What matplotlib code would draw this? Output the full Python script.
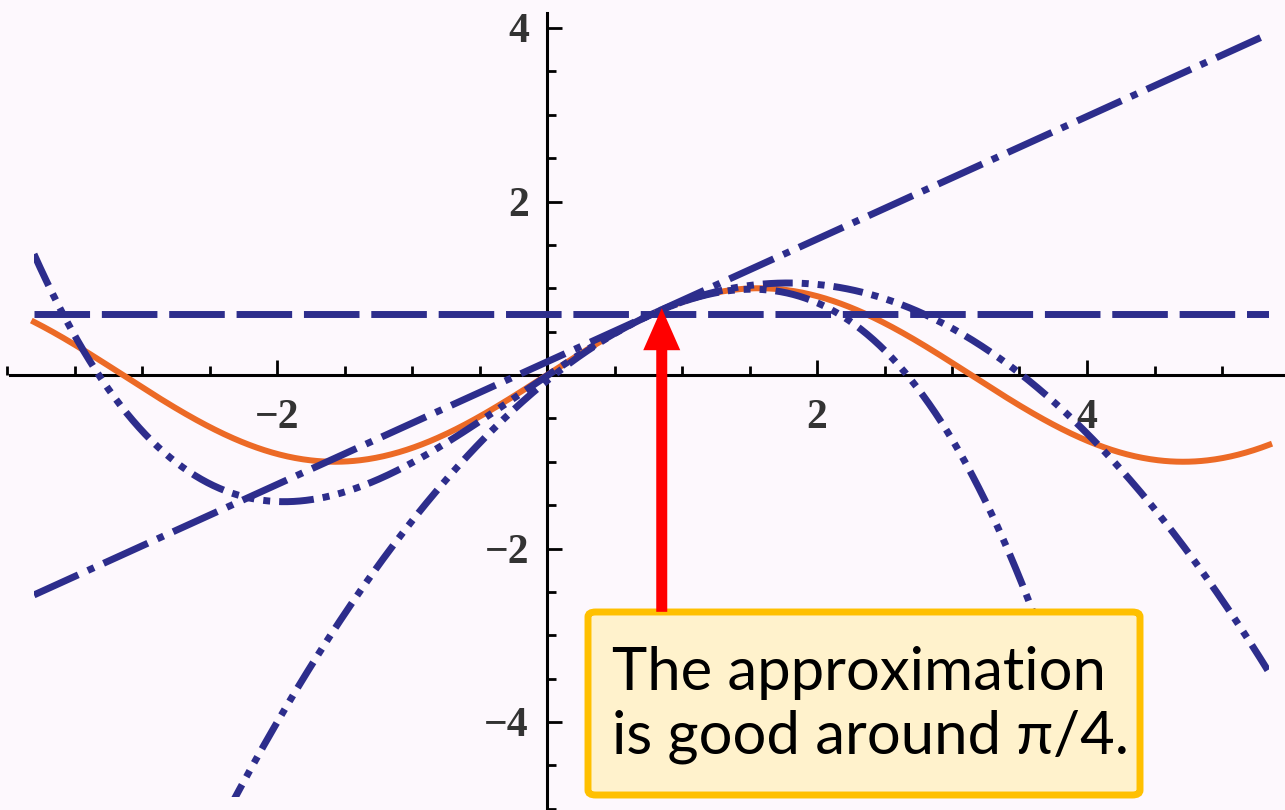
import numpy as np
import matplotlib.pyplot as plt
from matplotlib.patches import FancyBboxPatch, Rectangle, FancyArrow
from matplotlib.ticker import FixedLocator, MultipleLocator

# sin(x) and its Taylor polynomials about pi/4
center = np.pi / 4
orders = [0, 1, 2, 3]
x_start, x_end = -3.8, 5.35
y_floor = -4.87

x_labels = [-2, 2, 4]
y_labels = [-4, -2, 2, 4]

note = "The approximation\nis good around \u03c0/4."
arrow_x, arrow_tip_y, arrow_tail_y = 0.85, 0.77, -2.73

navy = '#2d2d8c'
orange = '#ec6a26'
# dash patterns (in multiples of linewidth) per order
dash_styles = {
    0: (8.0, 1.7),
    1: (7.0, 1.5, 1.0, 1.5),
    2: (4.3, 1.3, 1.0, 1.3, 1.0, 1.3),
    3: (5.0, 1.3, 1.0, 1.3, 1.0, 1.3, 1.0, 1.3),
}


def taylor_sin(x, a, n):
    derivs = [np.sin(a), np.cos(a), -np.sin(a), -np.cos(a)]
    y = np.zeros_like(x)
    fact = 1.0
    for k in range(n + 1):
        if k > 0:
            fact *= k
        y = y + derivs[k % 4] * (x - a) ** k / fact
    return y


fig = plt.figure(figsize=(12.85, 8.10), dpi=100)
ax = fig.add_axes([0, 0, 1, 1])
ax.set_facecolor('#fdf8fd')
ax.set_xlim(-547 / 135, (1285 - 547) / 135)
ax.set_ylim(-(810 - 375) / 86.75, 375 / 86.75)

x = np.linspace(x_start, x_end, 800)
clip = Rectangle((x_start, y_floor), x_end - x_start, 20, transform=ax.transData)

ax.plot(x, np.sin(x), color=orange, lw=4.3, zorder=2)
for n in orders:
    line, = ax.plot(x, taylor_sin(x, center, n), color=navy, lw=5,
                    dash_capstyle='butt', zorder=3)
    line.set_dashes(dash_styles[n])
    line.set_clip_path(clip)

# axes through the origin
for side in ['top', 'right']:
    ax.spines[side].set_visible(False)
ax.spines['left'].set_position(('data', 0))
ax.spines['bottom'].set_position(('data', 0))
ax.spines['left'].set_bounds(-5.2, 4.17)
ax.spines['bottom'].set_bounds(-3.98, 5.6)
for side in ['left', 'bottom']:
    ax.spines[side].set_linewidth(2.2)
    ax.spines[side].set_zorder(1)

ax.xaxis.set_major_locator(FixedLocator(x_labels))
ax.xaxis.set_minor_locator(MultipleLocator(0.5))
ax.yaxis.set_major_locator(FixedLocator(y_labels))
ax.yaxis.set_minor_locator(MultipleLocator(0.5))
ax.tick_params(which='both', direction='in', width=2, color='black')
ax.tick_params(which='major', length=11)
ax.tick_params(which='minor', length=6.5)
ax.tick_params(axis='x', which='major', pad=17)
ax.tick_params(axis='y', which='major', pad=13)
for lab in ax.get_xticklabels() + ax.get_yticklabels():
    lab.set_fontfamily('Liberation Serif')
    lab.set_fontsize(30)
    lab.set_fontweight('bold')
    lab.set_color('#333333')

# red arrow to the expansion point
x0, y0 = ax.transData.transform((arrow_x, arrow_tail_y))
x1, y1 = ax.transData.transform((arrow_x, arrow_tip_y))
fig.patches.append(FancyArrow(x0, y0, 0, y1 - y0, width=11, head_width=37,
                              head_length=42, length_includes_head=True,
                              color='#ff0000', lw=0, transform=None, zorder=5))

box = FancyBboxPatch((588 / 1285, 1 - 795 / 810), (1140 - 588) / 1285,
                     (795 - 612) / 810, boxstyle='round,pad=0,rounding_size=0.006',
                     transform=ax.transAxes, facecolor='#fff2cc',
                     edgecolor='#ffc000', lw=5, zorder=6)
ax.add_patch(box)
ax.text(612 / 1285, 1 - 705 / 810, note, transform=ax.transAxes,
        ha='left', va='center', fontsize=43, family=['Lato', 'Open Sans'],
        linespacing=1.22, color='black', zorder=7)

fig.savefig('out.png', dpi=100)
